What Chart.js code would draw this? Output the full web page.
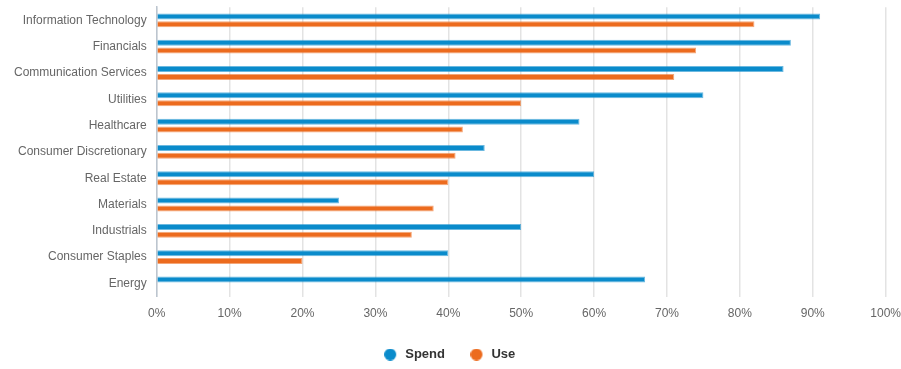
<!DOCTYPE html>
<html>
<head>
<meta charset="utf-8">
<script src="https://cdn.jsdelivr.net/npm/chart.js@4"></script>
<style>
  html, body { margin: 0; padding: 0; background: #fff; }
  #wrap { width: 901px; height: 369px; }
</style>
</head>
<body>
<div id="wrap"><canvas id="chart"></canvas></div>
<script>
var sectors = ["Information Technology", "Financials", "Communication Services", "Utilities", "Healthcare",
    "Consumer Discretionary", "Real Estate", "Materials", "Industrials", "Consumer Staples", "Energy"];
var spend = [91, 87, 86, 75, 58, 45, 60, 25, 50, 40, 67];
var use = [82, 74, 71, 50, 42, 41, 40, 38, 35, 20, null];
var colors = ["#0a8bcb", "#ec6b1e"];

Chart.defaults.font.family = "'Liberation Sans', Arial, sans-serif";
Chart.defaults.font.size = 12;
Chart.defaults.color = "#666";

// legend dot: 12px circle sitting at the left of a 16px wide box
function dot(color) {
    var c = document.createElement("canvas");
    c.width = 16;
    c.height = 12;
    var g = c.getContext("2d");
    g.fillStyle = color;
    g.beginPath();
    g.arc(6, 6, 6, 0, Math.PI * 2);
    g.fill();
    return c;
}
var dots = colors.map(dot);

var ctx = document.getElementById("chart");
var chart = new Chart(ctx, {
    type: "bar",
    data: {
        labels: sectors,
        datasets: [
            {
                label: "Spend",
                data: spend,
                backgroundColor: colors[0],
                borderColor: "rgba(10,139,203,0.6)",
                borderWidth: 1,
                categoryPercentage: 0.6,
                barPercentage: 0.76,
            },
            {
                label: "Use",
                data: use,
                backgroundColor: colors[1],
                borderColor: "rgba(236,107,30,0.6)",
                borderWidth: 1,
                categoryPercentage: 0.6,
                barPercentage: 0.76,
            },
        ],
    },
    options: {
        indexAxis: "y",
        responsive: true,
        maintainAspectRatio: false,
        animation: false,
        // negative bottom so the legend padding can stay wide
        layout: { padding: { top: 0, right: 0, left: 0, bottom: -2 } },
        plugins: {
            legend: {
                position: "bottom",
                labels: {
                    usePointStyle: true,
                    boxWidth: 16,
                    boxHeight: 12,
                    padding: 27,
                    color: "#333",
                    font: { size: 13, weight: "bold" },
                    generateLabels: function (chart) {
                        var items = Chart.defaults.plugins.legend.labels.generateLabels(chart);
                        items.forEach(function (it, i) { it.pointStyle = dots[i]; });
                        return items;
                    },
                },
            },
            tooltip: { enabled: false },
        },
        scales: {
            x: {
                min: 0,
                max: 100,
                ticks: {
                    stepSize: 10,
                    padding: 0,
                    callback: function (v) { return v + "%"; },
                },
                grid: { color: "#e3e3e3", lineWidth: 1.5, drawTicks: true, tickLength: 10, tickColor: "rgba(0,0,0,0)" },
                border: { display: false },
            },
            y: {
                ticks: { padding: 0, color: "#666" },
                grid: { display: true, drawOnChartArea: false, drawTicks: true, tickLength: 10, tickColor: "rgba(0,0,0,0)" },
                border: { display: true, color: "#bcc5cf", width: 1.5 },
                afterFit: function (s) { s.width += 14; },
            },
        },
    },
});
</script>
</body>
</html>
